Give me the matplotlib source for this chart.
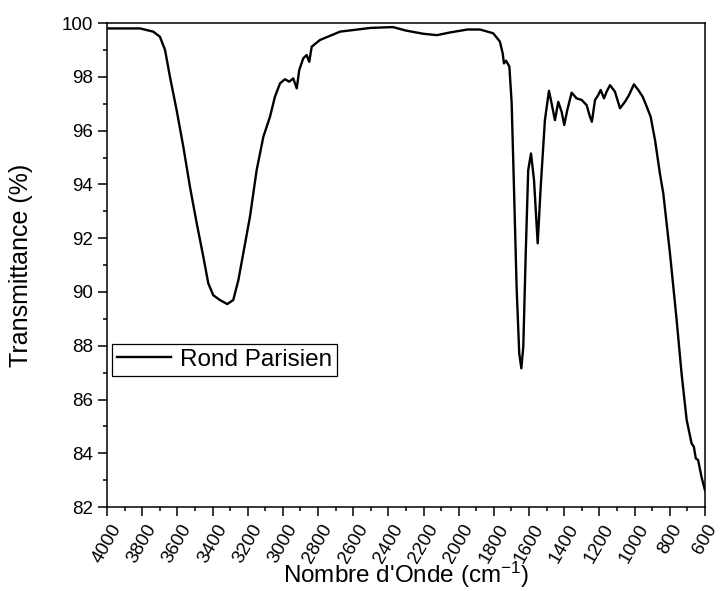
import matplotlib.pyplot as plt
from matplotlib.ticker import MultipleLocator

plt.rcParams['font.family'] = ['Liberation Sans', 'DejaVu Sans']
plt.rcParams['mathtext.fontset'] = 'custom'
plt.rcParams['mathtext.rm'] = 'Liberation Sans'
plt.rcParams['mathtext.it'] = 'Liberation Sans:italic'

# spectrum (cm-1, %T)
wavenumber = [4000, 3900, 3812, 3737, 3699, 3670, 3642, 3604, 3566, 3528, 3490,
              3452, 3424, 3396, 3358, 3316, 3282, 3253, 3225, 3187, 3149, 3111,
              3073, 3045, 3016, 2988, 2964, 2941, 2921, 2907, 2884, 2865, 2850,
              2836, 2789, 2675, 2500, 2374, 2300, 2200, 2124, 2050, 1950, 1879,
              1804, 1766, 1750, 1743, 1731, 1712, 1699, 1686, 1671, 1656, 1644,
              1633, 1619, 1605, 1589, 1572, 1551, 1534, 1510, 1487, 1472, 1453,
              1434, 1415, 1400, 1383, 1358, 1330, 1301, 1273, 1254, 1243, 1225,
              1207, 1193, 1174, 1159, 1140, 1112, 1083, 1055, 1032, 1004, 979,
              954, 931, 909, 884, 856, 837, 799, 761, 733, 704, 676, 663, 652,
              639, 620, 600]
transmittance = [99.8, 99.8, 99.8, 99.68, 99.49, 99.0, 98.0, 96.76, 95.4, 93.9, 92.56,
                 91.3, 90.32, 89.88, 89.7, 89.55, 89.7, 90.44, 91.44, 92.8, 94.53, 95.77,
                 96.52, 97.26, 97.76, 97.91, 97.82, 97.94, 97.57, 98.25, 98.69, 98.81, 98.56,
                 99.12, 99.37, 99.68, 99.82, 99.85, 99.72, 99.6, 99.55, 99.65, 99.76, 99.76,
                 99.62, 99.31, 98.87, 98.5, 98.6, 98.38, 97.01, 93.9, 90.19, 87.72, 87.16,
                 87.96, 91.44, 94.53, 95.15, 94.16, 91.81, 93.9, 96.39, 97.48, 97.01, 96.39,
                 97.07, 96.7, 96.21, 96.76, 97.41, 97.2, 97.14, 96.95, 96.52, 96.33, 97.14,
                 97.32, 97.51, 97.2, 97.45, 97.69, 97.45, 96.83, 97.07, 97.32, 97.72, 97.51,
                 97.26, 96.89, 96.52, 95.65, 94.4, 93.67, 91.44, 88.96, 86.97, 85.24, 84.37, 84.24, 83.81,
                 83.75, 83.13, 82.63]

fig = plt.figure(figsize=(7.2, 5.91), dpi=100)
ax = fig.add_axes([0.1486, 0.142, 0.8305, 0.819])

ax.plot(wavenumber, transmittance, color='black', lw=1.7, label='Rond Parisien')

ax.set_xlim(4000, 600)
ax.set_ylim(82, 100)
ax.xaxis.set_major_locator(MultipleLocator(200))
ax.xaxis.set_minor_locator(MultipleLocator(100))
ax.yaxis.set_major_locator(MultipleLocator(2))
ax.yaxis.set_minor_locator(MultipleLocator(1))
ax.tick_params(which='major', direction='out', length=6.5, width=1.1, labelsize=13.5)
ax.tick_params(which='minor', direction='out', length=3, width=1.1)
ax.tick_params(top=False, right=False)
for s in ax.spines.values():
    s.set_linewidth(1.1)
plt.setp(ax.get_xticklabels(), rotation=60, ha='center')

ax.set_xlabel("Nombre d'Onde (cm$^{-1}$)", fontsize=17.5)
ax.xaxis.set_label_coords(0.5, -0.109)
ax.set_ylabel('Transmittance (%)', fontsize=18)
ax.yaxis.set_label_coords(-0.124, 0.5)

leg = ax.legend(loc='upper left', bbox_to_anchor=(0.008, 0.337), borderaxespad=0,
                fontsize=17.5, frameon=True, fancybox=False, edgecolor='black',
                framealpha=1, handlelength=2.25, handletextpad=0.35, borderpad=0.2)
leg.get_frame().set_linewidth(0.9)

fig.savefig('out.png', dpi=100)
